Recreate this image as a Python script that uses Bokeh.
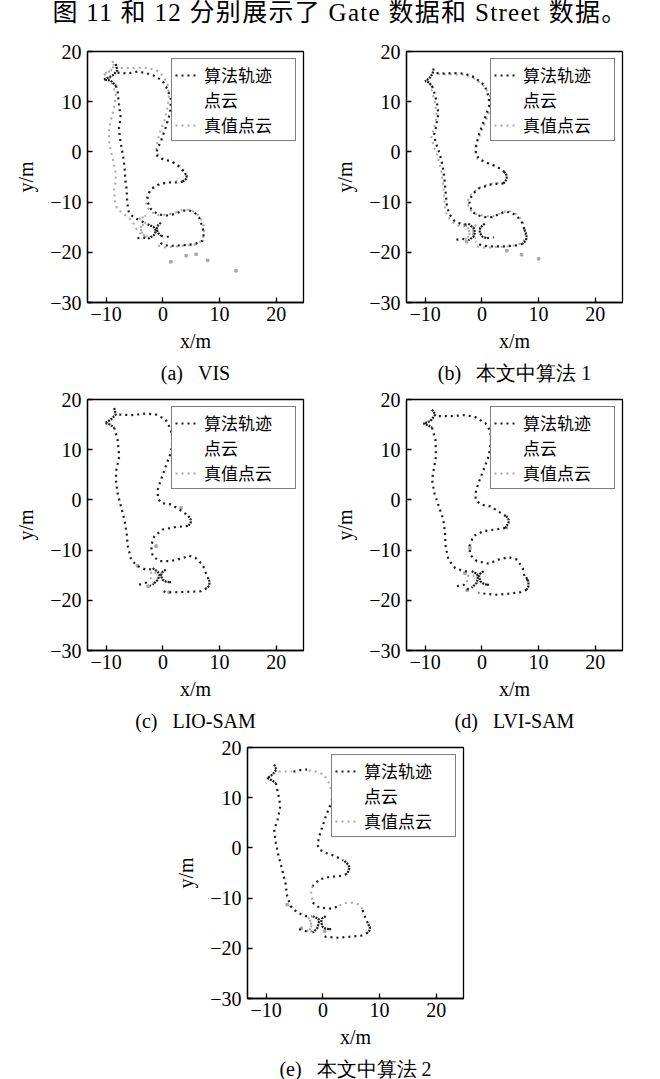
from bokeh.plotting import figure
from bokeh.models import Range1d, FixedTicker, Legend, LegendItem, Title, Div
from bokeh.layouts import column, row
from bokeh.embed import file_html
from bokeh.resources import INLINE

N = float("nan")

TITLE = "图 11 和 12 分别展示了 Gate 数据和 Street 数据。"
CAPTIONS = ["(a)\u00a0\u00a0\u00a0VIS", "(b)\u00a0\u00a0\u00a0本文中算法 1", "(c)\u00a0\u00a0\u00a0LIO-SAM",
            "(d)\u00a0\u00a0\u00a0LVI-SAM", "(e)\u00a0\u00a0\u00a0本文中算法 2"]
LEGEND_ALGO = ["算法轨迹", "点云"]
LEGEND_TRUTH = "真值点云"
X_LABEL = "x/m"
Y_LABEL = "y/m"
X_TICKS = [-10, 0, 10, 20]
Y_TICKS = [-30, -20, -10, 0, 10, 20]
TICK_TEXT = {-30: "\u221230", -20: "\u221220", -10: "\u221210", 0: "0", 10: "10", 20: "20"}

# ---------------- (a) VIS ----------------
A_ALGO_X = [-8.0, -6.3, -4.5, -3.0, -1.6, -0.1, 0.8, 1.4, 1.3, 0.5, -0.3, -1.0, -1.2, -0.5, 1.5, 3.0, 3.9, N,
            3.5, 2.9, 1.1, -0.65, -2.1, -2.7, -2.7, -2.1, -0.95, 0.5, 2.0, 3.5, 4.7, 5.6, 6.4, 7.0, 7.2, 7.0, 5.5, 3.5, 1.7, 0.2, -0.6, N,
            -8.3, -8.0, -7.75, -7.45, -7.75, -7.6, -7.3, -7.0, -6.75, -6.6, -6.4, -6.3, -6.0, -5.1, -3.9, -2.8, N,
            -4.5, -3.6, -2.7, N, -0.35, 0.4, 1.1]
A_ALGO_Y = [15.8, 15.6, 16.0, 15.7, 15.2, 14.2, 12.5, 10.5, 7.9, 4.9, 2.3, 0.5, -0.6, -1.3, -1.9, -3.0, -4.2, N,
            -5.9, -6.1, -6.1, -6.4, -7.4, -8.7, -10.0, -11.4, -12.4, -12.7, -12.4, -11.7, -11.7, -12.1, -13.1, -15.1, -16.4, -17.7, -18.4, -18.6, -18.7, -18.6, -18.0, N,
            13.2, 12.2, 9.5, 6.85, 4.85, 2.9, 0.9, -1.1, -3.1, -5.8, -7.4, -10.1, -12.1, -13.1, -13.7, -14.4, N,
            -17.2, -17.0, -17.4, N, -16.7, -16.9, -16.9]
A_ALGO_DENSE_X = [-8.3, -8.05, -8.9, -10.4, -9.2, -8.3, N, 3.9, 4.2, 4.1, 3.5, N,
                  -2.7, -1.6, -1.2, -1.6, -2.7, N, -0.35, -1.0, -1.1, -0.8, -0.35]
A_ALGO_DENSE_Y = [17.5, 16.2, 15.2, 14.4, 14.2, 13.2, N, -4.2, -4.8, -5.4, -5.9, N,
                  -14.4, -15.0, -15.7, -16.6, -17.4, N, -14.1, -14.8, -15.4, -16.2, -16.7]
A_TRUTH_X = [-7.45, -5.1, -3.3, -1.8, -0.65, 0.23, 0.8, 1.1, 0.8, 0.23, -0.65, -1.2, -0.95, 0.23, 2.0, 3.5, 4.1, N,
             3.6, 2.0, 0.3, -1.5, -2.6, -3.0, -2.8, -2.0, -0.8, 0.8, 2.5, 3.6, 4.8, 5.9, 6.7, 7.2, 7.3, 6.8, 5.5, 3.5, 1.5, 0.2, -1.0, N,
             -10.4, -9.5, -8.9, -8.3, -8.6, -9.2, -9.5, -9.5, -9.2, -8.75, -8.3, -8.4, -8.6, -8.45, -8.05, -7.2, -6.0, -5.1, -4.5, -3.6, -2.5]
A_TRUTH_Y = [16.7, 16.7, 16.8, 16.5, 16.0, 14.8, 13.5, 11.5, 8.8, 6.2, 3.5, 0.9, -0.45, -1.45, -2.1, -3.4, -4.8, N,
             -5.8, -5.9, -6.2, -7.0, -8.3, -9.8, -11.0, -12.0, -12.6, -12.5, -12.0, -11.5, -11.5, -12.2, -13.3, -14.8, -16.4, -17.8, -18.5, -18.7, -18.9, -19.0, -18.6, N,
             15.5, 14.8, 13.5, 11.5, 8.85, 6.2, 4.2, 2.2, 0.2, -1.8, -4.4, -6.4, -7.4, -10.1, -11.4, -12.1, -13.1, -14.4, -15.7, -16.7, -17.3]
A_TRUTH_DENSE_X = [-8.9, -8.6, -9.2, -10.4, N, -4.2, -3.0, N, -3.0, -3.8, -3.9, -3.3, -2.4]
A_TRUTH_DENSE_Y = [18.1, 17.1, 16.2, 15.5, N, -13.4, -12.7, N, -14.0, -14.8, -15.8, -16.6, -17.0]
A_TRUTH_PTS_X = [1.4, 4.1, 5.85, 7.9, 12.9]
A_TRUTH_PTS_Y = [-21.9, -20.7, -20.4, -21.6, -23.7]

# ---------------- (b) algorithm 1 ----------------
B_ALGO_X = [-8.0, -6.5, -5.3, -3.0, -1.2, 0.5, 1.2, 1.3, 0.6, -0.4, -1.0, -1.1, -0.4, 1.0, 2.6, 3.9, N,
            3.8, 1.8, -0.6, -1.8, -2.2, -1.8, -0.9, 0.6, 1.8, 3.0, 4.1, 5.3, 6.3, 7.1, 7.5, N,
            7.2, 6.2, 4.1, 2.4, 0.9, -0.3, -1.1, N,
            -8.8, -8.3, -7.8, -7.7, -8.1, -8.4, -8.2, -7.4, -6.9, -6.6, -6.4, -6.2, -5.8, -5.0, -3.8, -2.6, N,
            -4.5, -3.5, -2.4, N, 0.9, 1.5, 2.1]
B_ALGO_Y = [15.7, 15.6, 15.7, 15.6, 14.8, 13.2, 11.0, 9.3, 6.9, 3.9, 1.5, -0.4, -1.5, -2.2, -2.9, -3.9, N,
            -6.3, -6.4, -7.3, -8.6, -10.2, -11.8, -12.6, -13.0, -13.0, -12.4, -11.9, -12.1, -13.0, -14.1, -15.5, N,
            -18.3, -18.6, -18.8, -18.8, -18.8, -18.5, -17.9, N,
            13.1, 11.5, 9.0, 7.5, 5.0, 3.5, 2.0, -0.5, -3.0, -5.5, -8.0, -10.5, -12.3, -13.6, -14.3, -14.5, N,
            -17.5, -17.3, -17.6, N, -17.2, -17.1, -17.0]
B_ALGO_DENSE_X = [-8.5, -8.7, -9.3, -10.0, -9.3, -8.8, N, 3.9, 4.3, 4.4, 3.8, N, 7.5, 7.9, 7.8, 7.2, N,
                  -2.4, -1.5, -1.2, -1.5, -2.4, N, 0.5, -0.3, -0.4, 0.1, 0.9]
B_ALGO_DENSE_Y = [16.6, 15.6, 14.6, 14.1, 13.8, 13.1, N, -3.9, -4.5, -5.4, -6.3, N, -15.5, -16.6, -17.6, -18.3, N,
                  -14.3, -15.1, -16.0, -16.9, -17.6, N, -14.3, -15.1, -16.1, -16.9, -17.2]
B_TRUTH_X = [-7.8, -5.5, -3.2, -1.3, 0.5, 1.5, 1.6, 0.8, -0.3, -1.2, -0.8, 1.0, 2.8, 4.2, N,
             4.0, 2.0, -0.5, -2.0, -2.6, -2.2, -1.0, 0.6, 2.0, 3.3, 4.5, 5.6, 6.6, 7.4, 7.7, 7.3, 6.0, 4.0, 2.0, 0.5, -1.0, N,
             -9.2, -8.8, -8.2, -8.0, -8.5, -8.9, -8.6, -7.8, -7.2, -6.9, -6.7, -6.5, -6.2, -5.3, -4.2, -3.2]
B_TRUTH_Y = [15.5, 15.4, 15.4, 14.6, 13.0, 11.0, 9.0, 6.5, 3.6, 0.6, -1.4, -2.3, -3.0, -4.3, N,
             -6.2, -6.2, -7.1, -8.6, -10.0, -11.5, -12.4, -12.8, -12.8, -12.2, -11.7, -12.0, -12.9, -14.5, -16.5, -18.0, -18.6, -18.9, -19.0, -19.1, -18.8, N,
             13.6, 12.0, 9.5, 7.0, 4.5, 3.0, 1.5, -1.0, -3.5, -6.0, -8.5, -11.0, -12.7, -13.9, -14.6, -15.0]
B_TRUTH_DENSE_X = [-2.9, -2.4, -2.2, -2.5, -3.2, N, -1.0, -1.6, -1.6, -1.1]
B_TRUTH_DENSE_Y = [-14.6, -15.3, -16.3, -17.0, -17.6, N, -14.5, -15.3, -16.4, -17.3]
B_TRUTH_PTS_X = [4.4, 7.0, 10.0, -2.7, -3.0]
B_TRUTH_PTS_Y = [-19.7, -20.5, -21.3, -17.9, -14.6]

# ---------------- (c) LIO-SAM ----------------
C_ALGO_X = [-7.7, -5.4, -3.0, -1.2, 0.5, 1.4, 1.7, 1.4, 0.5, -0.35, -0.9, -0.9, -0.35, 1.4, 2.9, 4.4, N,
            4.4, 2.3, -0.06, -1.5, -2.1, -1.8, -0.6, 1.4, 3.5, 4.6, 5.8, 7.0, 7.6, 8.0, N,
            7.7, 6.7, 4.6, 2.3, 0.5, -0.35, N,
            -8.6, -8.0, -7.7, -8.2, -8.3, -8.0, -7.4, -6.8, -6.4, -6.2, -5.6, -4.5, -3.0, -1.9, N,
            -4.2, -3.0, -2.1, N, 1.1, 2.0]
C_ALGO_Y = [17.0, 16.9, 17.2, 17.0, 16.0, 14.0, 12.0, 9.4, 6.7, 4.0, 2.1, 0.4, -0.6, -0.9, -1.9, -3.1, N,
            -5.2, -5.4, -5.9, -7.2, -9.2, -11.2, -12.2, -12.2, -11.6, -11.1, -11.6, -12.9, -14.6, -15.6, N,
            -17.6, -18.2, -18.3, -18.4, -18.4, -17.9, N,
            14.4, 12.0, 8.7, 6.0, 4.0, 1.4, -1.3, -3.9, -6.6, -9.2, -11.9, -13.2, -13.9, -13.8, N,
            -16.9, -16.5, -17.1, N, -16.4, -16.4]
C_ALGO_DENSE_X = [-8.6, -8.3, -9.2, -10.2, -9.3, -8.6, N, 4.5, 4.9, 4.9, 4.4, N, 7.9, 8.2, 8.2, 7.7, N,
                  -1.8, -0.9, -0.6, -0.9, -1.8, N, 0.5, -0.2, -0.35, -0.06, 0.6, 1.1]
C_ALGO_DENSE_Y = [18.3, 17.0, 16.0, 15.3, 15.0, 14.4, N, -3.2, -3.9, -4.6, -5.2, N, -15.4, -16.2, -17.0, -17.6, N,
                  -13.6, -14.3, -15.0, -15.9, -16.9, N, -13.9, -14.5, -15.1, -15.9, -16.3, -16.4]
C_TRUTH_X = [-2.0, -2.3, -2.0, -1.3]
C_TRUTH_Y = [-14.3, -15.2, -16.0, -16.8]
C_TRUTH_DENSE_X = [-1.5, -1.0]
C_TRUTH_DENSE_Y = [-14.4, -14.9]
C_TRUTH_PTS_X = [-1.2, 3.2, -4.5, 1.1, -2.6]
C_TRUTH_PTS_Y = [-9.2, -1.6, -13.1, -18.4, -17.2]

# ---------------- (d) LVI-SAM ----------------
D_ALGO_X = [-7.6, -5.3, -2.9, -1.2, 0.6, 1.5, 1.6, 1.2, 0.3, -0.6, -1.2, -1.05, -0.3, 1.5, 2.9, 4.2, N,
            4.1, 2.35, 0.3, -1.5, -2.2, -2.1, -0.9, 1.2, 2.9, 4.7, 6.2, 7.2, 7.5, 8.0, N,
            7.9, 6.8, 4.7, 2.35, 0.6, -0.6, N,
            -8.8, -8.2, -8.1, -8.5, -8.8, -8.4, -7.6, -6.8, -6.5, -6.4, -5.9, -4.7, -3.2, -2.2, N,
            -4.4, -3.2, -2.35, N, 0.9, 1.8]
D_ALGO_Y = [16.7, 16.7, 16.9, 16.5, 15.3, 13.7, 11.4, 8.7, 6.0, 3.4, 1.1, 0.07, -0.9, -1.3, -2.3, -3.2, N,
            -5.6, -5.9, -6.2, -7.2, -9.2, -10.9, -12.2, -12.7, -11.9, -11.4, -11.9, -13.6, -15.2, -16.0, N,
            -17.9, -18.4, -18.7, -18.9, -18.7, -18.5, N,
            14.4, 12.0, 8.7, 6.0, 4.05, 1.4, -1.3, -3.9, -6.6, -9.2, -11.9, -13.6, -14.2, -14.3, N,
            -17.2, -16.9, -17.9, N, -16.9, -16.9]
D_ALGO_DENSE_X = [-8.8, -8.2, -9.1, -10.3, -9.5, -8.8, N, 4.3, 4.7, 4.7, 4.1, N, 7.8, 8.2, 8.2, 7.9, N,
                  -1.8, -0.9, -0.7, -0.9, -1.8, N, 0.3, -0.4, -0.5, -0.3, 0.3, 0.9]
D_ALGO_DENSE_Y = [18.0, 17.0, 15.7, 15.2, 14.9, 14.4, N, -3.2, -3.9, -4.6, -5.6, N, -15.4, -16.2, -17.2, -17.9, N,
                  -14.2, -14.7, -15.2, -16.5, -17.5, N, -14.2, -14.8, -15.2, -16.2, -16.7, -16.9]
D_TRUTH_X = [-2.35, -2.7, -2.5]
D_TRUTH_Y = [-14.9, -15.8, -16.8]
D_TRUTH_DENSE_X = [-1.6, -1.2]
D_TRUTH_DENSE_Y = [-15.0, -15.6]
D_TRUTH_PTS_X = [-2.1, 4.3, -3.0, -2.6]
D_TRUTH_PTS_Y = [-9.6, -5.5, -14.6, -18.0]

# ---------------- (e) algorithm 2 ----------------
E_ALGO_X = [-5.2, -4.0, -2.8, N,
            1.3, 0.5, -0.06, -0.65, -0.95, -0.65, 0.5, 2.3, 3.6, N,
            4.2, 3.0, 1.1, -0.65, -1.8, N,
            -1.8, -0.65, 1.4, 2.6, N,
            7.0, 7.6, 8.0, N,
            7.9, 6.7, 4.7, 2.3, 0.5, -0.35, N,
            -8.3, -7.9, -7.5, -8.0, -8.6, -8.3, -7.8, -7.2, -6.6, -6.3, -5.7, -4.5, -3.0, -2.0, N,
            -4.2, -3.0, -2.0, N, 1.1, 2.0]
E_ALGO_Y = [15.2, 15.5, 15.6, N,
            8.5, 6.3, 4.3, 2.3, 0.66, -0.3, -1.0, -1.7, -2.5, N,
            -5.2, -5.6, -5.8, -6.3, -7.6, N,
            -10.9, -11.9, -12.1, -11.7, N,
            -12.4, -14.2, -15.2, N,
            -16.9, -17.5, -17.7, -17.9, -17.7, -17.2, N,
            12.9, 10.9, 8.3, 5.6, 3.6, 1.0, -1.7, -4.3, -7.0, -9.6, -11.6, -12.9, -13.6, -13.6, N,
            -16.2, -16.6, -16.6, N, -16.2, -16.2]
E_ALGO_DENSE_X = [-8.6, -8.2, -8.9, -9.8, -8.9, -8.3, N, 3.8, 4.5, 4.7, 4.4, 4.2, N, 8.0, 8.3, 8.2, 7.9, N,
                  -1.8, -0.8, -0.65, -0.95, -1.8, N, 0.5, -0.2, -0.3, -0.06, 0.5, 1.1]
E_ALGO_DENSE_Y = [16.6, 15.6, 14.6, 13.9, 13.4, 12.9, N, -2.6, -3.4, -4.0, -4.8, -5.2, N, -15.2, -15.8, -16.5, -16.9, N,
                  -13.6, -14.1, -14.6, -15.9, -16.9, N, -13.6, -14.1, -14.8, -15.7, -16.1, -16.2]
E_TRUTH_X = [-7.8, -6.6, -5.5, N, -2.5, -1.2, 0.2, 1.1, 1.6, 1.5, N, -1.8, -2.1, -2.0, -1.8, N,
             2.9, 4.0, 4.7, 5.6, 6.4, 7.0]
E_TRUTH_Y = [15.2, 15.2, 15.2, N, 15.4, 15.2, 14.6, 12.9, 10.9, 8.9, N, -7.6, -8.5, -9.5, -10.9, N,
             -11.5, -11.0, -10.9, -11.0, -11.3, -12.2]
E_TRUTH_DENSE_X = [-2.6, -2.2, -2.0, -2.3, -2.8]
E_TRUTH_DENSE_Y = [-13.8, -14.6, -15.5, -16.2, -16.6]
E_TRUTH_PTS_X = [-3.8, -6.3, 0.3]
E_TRUTH_PTS_Y = [-16.0, -11.3, -16.6]

SERIF = "Liberation Serif"
CJK = "Noto Sans CJK SC"
BLACK = "#1c1c1c"
GRAY = "#a8a8a8"


def make_panel(caption, ax, ay, adx, ady, tx, ty, tdx, tdy, px, py,
               left=87, right=13, top=11, bottom=85):
    p = figure(frame_width=216, frame_height=251,
               x_range=Range1d(-13.3, 24.8), y_range=Range1d(-30, 20),
               output_backend="svg", toolbar_location=None,
               min_border_left=left, min_border_right=right,
               min_border_top=top, min_border_bottom=bottom,
               background_fill_color="white", border_fill_color="white")
    p.xgrid.visible = False
    p.ygrid.visible = False
    p.outline_line_color = "black"
    p.outline_line_width = 1.3
    for ax_, ticks in ((p.xaxis[0], X_TICKS), (p.yaxis[0], Y_TICKS)):
        ax_.ticker = FixedTicker(ticks=ticks)
        ax_.major_label_overrides = {t: TICK_TEXT[t] for t in ticks}
        ax_.major_tick_in = 5
        ax_.major_tick_out = 0
        ax_.minor_tick_line_color = None
        ax_.axis_line_color = "black"
        ax_.axis_line_width = 1.3
        ax_.major_tick_line_width = 1.3
        ax_.major_label_text_font = SERIF
        ax_.major_label_text_font_size = "20px"
        ax_.major_label_text_color = "black"
        ax_.axis_label_text_font = SERIF
        ax_.axis_label_text_font_size = "20px"
        ax_.axis_label_text_font_style = "normal"
        ax_.axis_label_text_color = "black"
    p.xaxis.axis_label = X_LABEL
    p.yaxis.axis_label = Y_LABEL
    p.xaxis.major_label_standoff = 4
    p.xaxis.axis_label_standoff = 6
    p.yaxis.major_label_standoff = 6
    p.yaxis.axis_label_standoff = 10

    truth = p.line(tx, ty, line_color=GRAY, line_width=2, line_dash="2 4")
    p.line(tdx, tdy, line_color=GRAY, line_width=2, line_dash="2 1")
    p.scatter(px, py, marker="square", size=2.5, color=GRAY)
    algo = p.line(ax, ay, line_color=BLACK, line_width=2.2, line_dash="2 4")
    p.line(adx, ady, line_color=BLACK, line_width=2.2, line_dash="2 1")
    blank = p.line(x=[], y=[], line_alpha=0)

    legend = Legend(items=[LegendItem(label=LEGEND_ALGO[0], renderers=[algo]),
                           LegendItem(label=LEGEND_ALGO[1], renderers=[blank]),
                           LegendItem(label=LEGEND_TRUTH, renderers=[truth])],
                    location="top_right", margin=7, padding=3, spacing=0,
                    glyph_width=24, glyph_height=24, label_height=24,
                    label_standoff=5, label_width=88,
                    label_text_font=CJK, label_text_font_size="17px", label_text_color="black",
                    border_line_color="black", border_line_width=1.3,
                    background_fill_color="white", background_fill_alpha=1.0)
    p.add_layout(legend)
    p.add_layout(Title(text=caption, align="center", text_font=SERIF,
                       text_font_size="20px", text_font_style="normal", text_color="black"), "below")
    return p


pa = make_panel(CAPTIONS[0], A_ALGO_X, A_ALGO_Y, A_ALGO_DENSE_X, A_ALGO_DENSE_Y,
                A_TRUTH_X, A_TRUTH_Y, A_TRUTH_DENSE_X, A_TRUTH_DENSE_Y, A_TRUTH_PTS_X, A_TRUTH_PTS_Y)
pb = make_panel(CAPTIONS[1], B_ALGO_X, B_ALGO_Y, B_ALGO_DENSE_X, B_ALGO_DENSE_Y,
                B_TRUTH_X, B_TRUTH_Y, B_TRUTH_DENSE_X, B_TRUTH_DENSE_Y, B_TRUTH_PTS_X, B_TRUTH_PTS_Y,
                left=90, right=21)
pc = make_panel(CAPTIONS[2], C_ALGO_X, C_ALGO_Y, C_ALGO_DENSE_X, C_ALGO_DENSE_Y,
                C_TRUTH_X, C_TRUTH_Y, C_TRUTH_DENSE_X, C_TRUTH_DENSE_Y, C_TRUTH_PTS_X, C_TRUTH_PTS_Y,
                bottom=84)
pd_ = make_panel(CAPTIONS[3], D_ALGO_X, D_ALGO_Y, D_ALGO_DENSE_X, D_ALGO_DENSE_Y,
                 D_TRUTH_X, D_TRUTH_Y, D_TRUTH_DENSE_X, D_TRUTH_DENSE_Y, D_TRUTH_PTS_X, D_TRUTH_PTS_Y,
                 left=90, right=21, bottom=84)
pe = make_panel(CAPTIONS[4], E_ALGO_X, E_ALGO_Y, E_ALGO_DENSE_X, E_ALGO_DENSE_Y,
                E_TRUTH_X, E_TRUTH_Y, E_TRUTH_DENSE_X, E_TRUTH_DENSE_Y, E_TRUTH_PTS_X, E_TRUTH_PTS_Y,
                left=247, right=14, bottom=75)

title = Div(text=("<div style=\"font-family:'Liberation Serif','Noto Sans CJK SC',serif;"
                  "font-size:25px;letter-spacing:1.3px;line-height:15px;text-align:center;"
                  "width:660px;padding-left:10px;color:black;white-space:nowrap;\">"
                  + TITLE + "</div>"), width=660, height=30)

layout = column(title, row(pa, pb), row(pc, pd_), pe)
open("out.html", "w").write(file_html(layout, INLINE))
